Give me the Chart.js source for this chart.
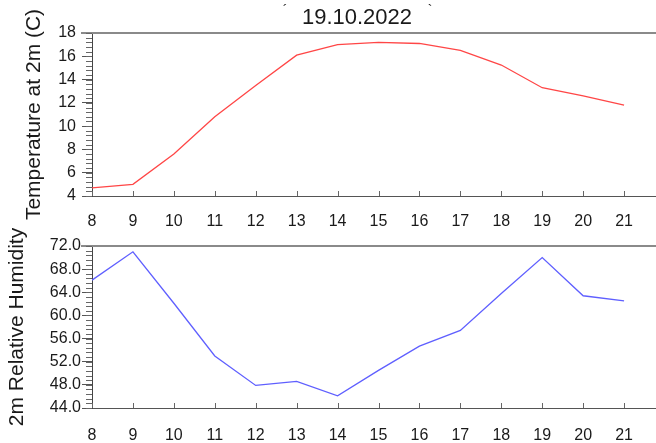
<!DOCTYPE html>
<html>
<head>
<meta charset="utf-8">
<script src="https://cdn.jsdelivr.net/npm/chart.js@4.4.1/dist/chart.umd.min.js"></script>
<style>
  html, body { margin: 0; padding: 0; background: #fff; overflow: hidden; width: 656px; height: 443px; }
  canvas { position: absolute; left: 0; }
  #tempCanvas { top: 0; }
  #rhCanvas { top: 228px; }
</style>
</head>
<body>
<canvas id="tempCanvas" width="680" height="230"></canvas>
<canvas id="rhCanvas" width="680" height="215"></canvas>
<script>
// Hourly values for 19.10.2022
const hours = [8, 9, 10, 11, 12, 13, 14, 15, 16, 17, 18, 19, 20, 21];
const temperature = [4.7, 5.0, 7.6, 10.8, 13.5, 16.1, 17.0, 17.2, 17.1, 16.5, 15.25, 13.3, 12.6, 11.8];
const humidity = [66.1, 71.0, 62.1, 53.0, 47.9, 48.6, 46.1, 50.5, 54.7, 57.4, 63.8, 70.0, 63.4, 62.5];

// Axis ticks
const hourTicks = [8, 9, 10, 11, 12, 13, 14, 15, 16, 17, 18, 19, 20, 21];
const tempTicks = [4, 6, 8, 10, 12, 14, 16, 18];
const rhTicks = [44, 48, 52, 56, 60, 64, 68, 72];

const dateTitle = '19.10.2022';
const FONT = '"Liberation Sans", Arial, Helvetica, sans-serif';
const TEXT = '#1a1a1a';

// Frame: top border, minor y ticks, inward hour ticks
const framePlugin = {
  id: 'frame',
  afterDraw(chart, args, opts) {
    const { ctx, chartArea: a, scales: { x, y } } = chart;
    ctx.save();
    ctx.strokeStyle = '#8a8a8a';
    ctx.lineWidth = 2;
    ctx.beginPath();
    ctx.moveTo(a.left - 11, a.top);
    ctx.lineTo(a.right, a.top);
    ctx.stroke();

    ctx.strokeStyle = '#666';
    ctx.lineWidth = 1;
    ctx.beginPath();
    const step = opts.minorStep;
    const n = Math.round((y.max - y.min) / step);
    for (let i = 0; i <= n; i++) {
      const py = Math.round(y.getPixelForValue(y.min + i * step)) + 0.5;
      ctx.moveTo(a.left - 6, py);
      ctx.lineTo(a.left, py);
    }
    hourTicks.forEach(h => {
      const px = Math.round(x.getPixelForValue(h)) + 0.5;
      ctx.moveTo(px, a.bottom);
      ctx.lineTo(px, a.bottom - 5);
    });
    ctx.stroke();

    if (opts.title) {
      ctx.fillStyle = TEXT;
      ctx.textAlign = 'center';
      ctx.textBaseline = 'middle';
      ctx.font = '22px ' + FONT;
      ctx.fillText(opts.title, 357, 18);
      ctx.font = '14px ' + FONT;
      ctx.fillText('\u00B4', 285, 11);
      ctx.fillText('`', 430, 11);
    }
    ctx.restore();
  }
};

function makeChart(id, values, color, yMin, yMax, yTickList, decimals, axisTitle, titlePad, topPad, xHeight, xLabelPad, labelPad, minorStep, title) {
  return new Chart(document.getElementById(id), {
    type: 'line',
    data: {
      datasets: [{
        data: hours.map((h, i) => ({ x: h, y: values[i] })),
        borderColor: color,
        borderWidth: 1.3,
        pointRadius: 0,
        tension: 0,
        fill: false
      }]
    },
    options: {
      responsive: false,
      devicePixelRatio: 1,
      animation: false,
      layout: { padding: { top: topPad, right: 15, left: 0, bottom: 0 } },
      plugins: {
        legend: { display: false },
        tooltip: { enabled: false },
        frame: { minorStep: minorStep, title: title }
      },
      scales: {
        x: {
          type: 'linear',
          min: 8,
          max: 22,
          afterBuildTicks: s => { s.ticks = hourTicks.map(v => ({ value: v })); },
          afterFit: s => { s.height = xHeight; },
          grid: { drawOnChartArea: false, drawTicks: false },
          border: { display: true, color: '#555', width: 1 },
          ticks: { padding: xLabelPad, color: TEXT, font: { family: FONT, size: 16 }, maxRotation: 0 }
        },
        y: {
          min: yMin,
          max: yMax,
          afterBuildTicks: s => { s.ticks = yTickList.map(v => ({ value: v })); },
          afterFit: s => { s.width = 92; },
          grid: { drawOnChartArea: false, drawTicks: true, tickLength: 10, color: '#555' },
          border: { display: true, color: '#444', width: 1 },
          ticks: {
            padding: labelPad,
            color: TEXT,
            font: { family: FONT, size: 16 },
            callback: v => v.toFixed(decimals)
          },
          title: {
            display: true,
            text: axisTitle,
            color: TEXT,
            font: { family: FONT, size: 21 },
            padding: { top: titlePad, bottom: 0 }
          }
        }
      }
    },
    plugins: [framePlugin]
  });
}

makeChart('tempCanvas', temperature, 'rgb(255,70,70)', 4, 18, tempTicks, 0,
  'Temperature at 2m (C)', 22, 33, 34, 16, 6, 0.4, dateTitle);
makeChart('rhCanvas', humidity, 'rgb(95,95,255)', 44, 72, rhTicks, 1,
  '2m Relative Humidity', 5, 18, 35, 18, 1, 0.8, null);
</script>
</body>
</html>
